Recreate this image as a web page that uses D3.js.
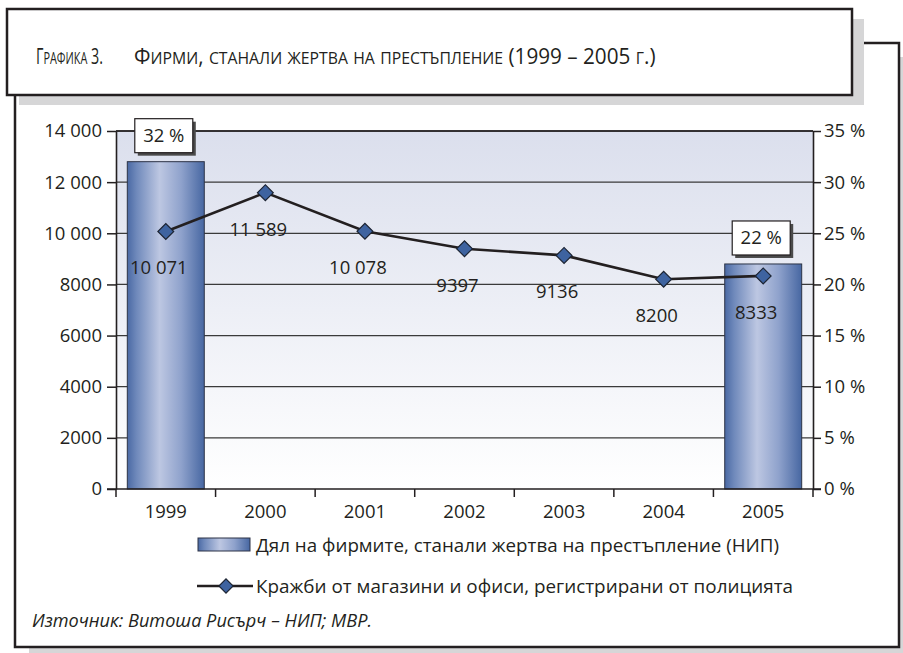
<!DOCTYPE html>
<html><head><meta charset="utf-8">
<script src="https://cdn.jsdelivr.net/npm/d3@7"></script>
<style>
html,body{margin:0;padding:0;background:#fff;}
svg{display:block;font-family:"Open Sans",sans-serif;}
</style></head>
<body>
<svg id="c" width="903" height="653"></svg>
<script>
// ---- data ----
const years = ["1999","2000","2001","2002","2003","2004","2005"];
const thefts = [10071, 11589, 10078, 9397, 9136, 8200, 8333];
const sharePct = [32, null, null, null, null, null, 22];
const leftTicks = [0, 2000, 4000, 6000, 8000, 10000, 12000, 14000];
const rightTicks = [0, 5, 10, 15, 20, 25, 30, 35];
const titleLabel = "Графика 3.";
const titleText = "Фирми, станали жертва на престъпление (1999 – 2005 г.)";
const legendBar = "Дял на фирмите, станали жертва на престъпление (НИП)";
const legendLine = "Кражби от магазини и офиси, регистрирани от полицията";
const sourceText = "Източник: Витоша Рисърч – НИП; МВР.";

const ink = "#231f20";
const svg = d3.select("#c");
const defs = svg.append("defs");

const bg = defs.append("linearGradient").attr("id","bg").attr("x1",0).attr("y1",0).attr("x2",0).attr("y2",1);
bg.append("stop").attr("offset","0%").attr("stop-color","#dbdfed");
bg.append("stop").attr("offset","100%").attr("stop-color","#ffffff");

const bar = defs.append("linearGradient").attr("id","bar").attr("x1",0).attr("y1",0).attr("x2",1).attr("y2",0);
[["0%","#4a69a4"],["12%","#6f89bb"],["42%","#bdc7e2"],["70%","#8fa2cc"],["100%","#4767a2"]]
  .forEach(([o,c]) => bar.append("stop").attr("offset",o).attr("stop-color",c));

// ---- frames ----
svg.append("rect").attr("x",29).attr("y",57).attr("width",890).attr("height",620).attr("fill","#d6d6d7");
svg.append("rect").attr("x",15).attr("y",43).attr("width",884).attr("height",604)
  .attr("fill","#fff").attr("stroke",ink).attr("stroke-width",2.5);
svg.append("rect").attr("x",19).attr("y",19).attr("width",845).attr("height",86).attr("fill","#d6d6d7");
svg.append("rect").attr("x",7).attr("y",9).attr("width",845).attr("height",86)
  .attr("fill","#fff").attr("stroke",ink).attr("stroke-width",2.5);

// small-caps title, horizontally fitted with a transform
function smallCaps(sel, str, big, small){
  str.split(/(\s+)/).forEach(w => {
    if (!w.length) return;
    let buf = "", mode = null;
    const flush = () => { if (buf) sel.append("tspan").attr("font-size", mode==="s"?small:big).text(buf); buf=""; };
    for (const ch of w) {
      const isLower = ch !== ch.toUpperCase();
      const m = isLower ? "s" : "b";
      if (m !== mode) { flush(); mode = m; }
      buf += isLower ? ch.toUpperCase() : ch;
    }
    flush();
  });
}
function fitTitle(str, x0, y0, width){
  const g = svg.append("g");
  const t = g.append("text").attr("x",0).attr("y",0).attr("fill",ink);
  smallCaps(t, str, 21, 16);
  const w = t.node().getBBox().width;
  g.attr("transform", `translate(${x0},${y0}) scale(${width / w},1)`);
}
fitTitle(titleLabel, 36, 64, 67);
fitTitle(titleText, 134, 64, 522);

// ---- scales ----
const plot = {l:116, r:813, t:131, b:489};
const x = d3.scaleBand().domain(years).range([plot.l, plot.r]).paddingInner(0.227).paddingOuter(0.1135);
const yL = d3.scaleLinear().domain([0,14000]).range([plot.b, plot.t]);
const yR = d3.scaleLinear().domain([0,35]).range([plot.b, plot.t]);
const fmt = v => v >= 10000 ? d3.format(",")(v).replace(/,/g," ") : String(v);

svg.append("rect").attr("x",plot.l).attr("y",plot.t).attr("width",plot.r-plot.l).attr("height",plot.b-plot.t).attr("fill","url(#bg)");

// gridlines
svg.append("g").selectAll("line").data(leftTicks.filter(d=>d>0)).join("line")
  .attr("x1",plot.l).attr("x2",plot.r).attr("y1",d=>yL(d)).attr("y2",d=>yL(d))
  .attr("stroke","#3a3a3a").attr("stroke-width",1.3);

// bars
const barData = years.map((y,i)=>({y, v: sharePct[i]})).filter(d=>d.v!=null);
svg.append("g").selectAll("rect").data(barData).join("rect")
  .attr("x",d=>x(d.y)).attr("width",x.bandwidth())
  .attr("y",d=>yR(d.v)).attr("height",d=>yR(0)-yR(d.v))
  .attr("fill","url(#bar)").attr("stroke","#2c3346").attr("stroke-width",1);

// axes
const axL = svg.append("g").attr("transform",`translate(${plot.l},0)`)
  .call(d3.axisLeft(yL).tickValues(leftTicks).tickFormat(fmt).tickSize(9).tickSizeOuter(0).tickPadding(5));
const axR = svg.append("g").attr("transform",`translate(${plot.r},0)`)
  .call(d3.axisRight(yR).tickValues(rightTicks).tickFormat(d=>d+" %").tickSize(8).tickSizeOuter(0).tickPadding(3));
const axB = svg.append("g").attr("transform",`translate(0,${plot.b})`)
  .call(d3.axisBottom(x).tickSize(0).tickPadding(16).tickSizeOuter(0));
// boundary ticks
const bounds = d3.range(years.length+1).map(i => x.range()[0] + i*x.step());
svg.append("g").selectAll("line").data(bounds).join("line")
  .attr("x1",d=>d).attr("x2",d=>d).attr("y1",plot.b).attr("y2",plot.b+8)
  .attr("stroke",ink).attr("stroke-width",1.5);
[axL,axR,axB].forEach(a=>{
  a.selectAll("path").attr("stroke",ink).attr("stroke-width",1.6);
  a.selectAll("line").attr("stroke",ink).attr("stroke-width",1.5);
  a.selectAll("text").attr("fill",ink).attr("font-size",18.5).attr("font-family","Open Sans");
});
axB.select("path").attr("d",`M${plot.l-9},0H${plot.r+8}`);
// top border
svg.append("line").attr("x1",plot.l).attr("x2",plot.r).attr("y1",plot.t).attr("y2",plot.t)
  .attr("stroke",ink).attr("stroke-width",1.6);

// line series
const pts = years.map((y,i)=>({y, v: thefts[i]}));
const cx = d => x(d.y) + x.bandwidth()/2;
svg.append("path").datum(pts)
  .attr("d", d3.line().x(cx).y(d=>yL(d.v)))
  .attr("fill","none").attr("stroke",ink).attr("stroke-width",2.6);
svg.append("g").selectAll("path").data(pts).join("path")
  .attr("transform",d=>`translate(${cx(d)},${yL(d.v)}) rotate(45)`)
  .attr("d", d3.symbol().type(d3.symbolSquare).size(125))
  .attr("fill","#3e63a0").attr("stroke","#1c2433").attr("stroke-width",1.2);
svg.append("g").selectAll("text").data(pts).join("text")
  .attr("x",d=>cx(d)-7).attr("y",d=>yL(d.v)+43)
  .attr("text-anchor","middle").attr("font-size",18.5).attr("fill",ink)
  .text(d=>fmt(d.v));

// bar labels
const lab = svg.append("g").selectAll("g").data(barData).join("g")
  .attr("transform",d=>`translate(${x(d.y)+x.bandwidth()/2-2},${yR(d.v)-26})`);
lab.append("rect").attr("x",-26).attr("y",-14).attr("width",58).attr("height",34).attr("fill","#4a4a4a");
lab.append("rect").attr("x",-29).attr("y",-17).attr("width",58).attr("height",34)
  .attr("fill","#fff").attr("stroke",ink).attr("stroke-width",1.2);
lab.append("text").attr("x",0).attr("y",6.5).attr("text-anchor","middle").attr("font-size",18.5).attr("fill",ink)
  .text(d=>d.v+" %");

// legend
svg.append("rect").attr("x",198).attr("y",538).attr("width",52).attr("height",13)
  .attr("fill","url(#bar)").attr("stroke","#2c3346").attr("stroke-width",1);
svg.append("text").attr("x",256).attr("y",552).attr("font-size",19).attr("fill",ink)
  .attr("textLength",523).attr("lengthAdjust","spacingAndGlyphs").text(legendBar);
svg.append("line").attr("x1",197).attr("x2",253).attr("y1",586).attr("y2",586).attr("stroke",ink).attr("stroke-width",2.6);
svg.append("path").attr("transform","translate(226,586) rotate(45)")
  .attr("d", d3.symbol().type(d3.symbolSquare).size(100))
  .attr("fill","#3e63a0").attr("stroke","#1c2433").attr("stroke-width",1.2);
svg.append("text").attr("x",256).attr("y",592.5).attr("font-size",19).attr("fill",ink)
  .attr("textLength",537).attr("lengthAdjust","spacingAndGlyphs").text(legendLine);

// source
svg.append("text").attr("x",32).attr("y",627).attr("font-size",19).attr("font-style","italic").attr("fill",ink)
  .attr("textLength",340).attr("lengthAdjust","spacingAndGlyphs").text(sourceText);
</script>
</body></html>
